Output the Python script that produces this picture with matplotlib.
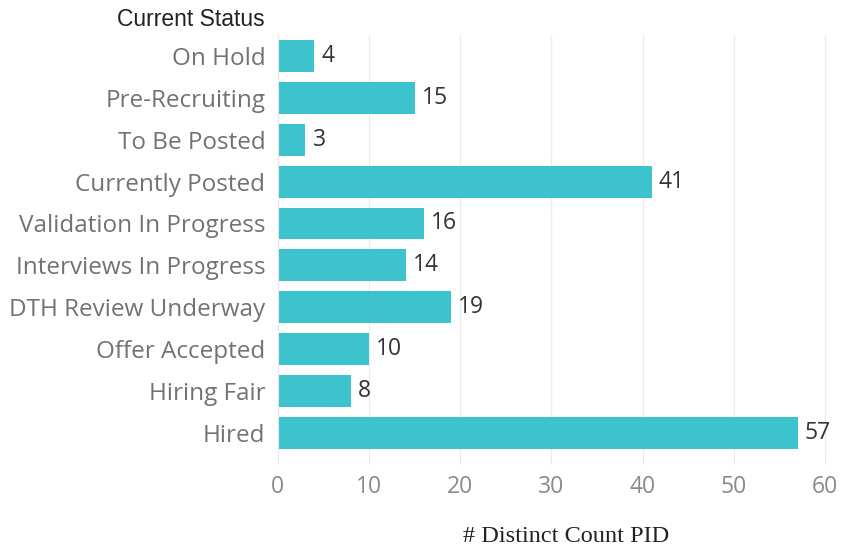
import matplotlib.pyplot as plt

statuses = ['On Hold', 'Pre-Recruiting', 'To Be Posted', 'Currently Posted',
            'Validation In Progress', 'Interviews In Progress',
            'DTH Review Underway', 'Offer Accepted', 'Hiring Fair', 'Hired']
counts = [4, 15, 3, 41, 16, 14, 19, 10, 8, 57]
xticks = [0, 10, 20, 30, 40, 50, 60]

plt.rcParams['font.family'] = ['Open Sans', 'DejaVu Sans']

fig = plt.figure(figsize=(8.55, 5.48), dpi=100)
ax = fig.add_axes([0.325, 0.172, 0.675, 0.764])

y = list(range(len(statuses)))
ax.barh(y, counts, height=0.76, color='#3cc3ce')
for yi, c in zip(y, counts):
    ax.text(c + 0.8, yi, str(c), va='center', ha='left', fontsize=16.5, color='#333333')

ax.set_ylim(len(statuses) - 0.5, -0.5)
ax.set_xlim(0, 63.3)
ax.set_yticks(y)
ax.set_yticklabels(statuses, fontsize=17.5, color='#727272')
ax.set_xticks(xticks)
ax.set_xticklabels([str(t) for t in xticks], fontsize=16.5, color='#8a8a8a')
ax.tick_params(axis='y', length=0, pad=9)
ax.tick_params(axis='x', length=7, color='#e6e6e6', pad=8)

ax.grid(axis='x', color='#ececec', linewidth=1)
ax.set_axisbelow(True)
for s in ['top', 'right', 'bottom']:
    ax.spines[s].set_visible(False)
ax.spines['left'].set_color('#e6e6e6')

ax.set_xlabel('# Distinct Count PID', fontsize=17.5, family='Liberation Serif',
              color='#222222', labelpad=20)
fig.text(265 / 855, 1 - 19 / 548, 'Current Status', ha='right', va='center',
         fontsize=16.5, family='Liberation Sans', color='#222222')

fig.savefig('out.png')
